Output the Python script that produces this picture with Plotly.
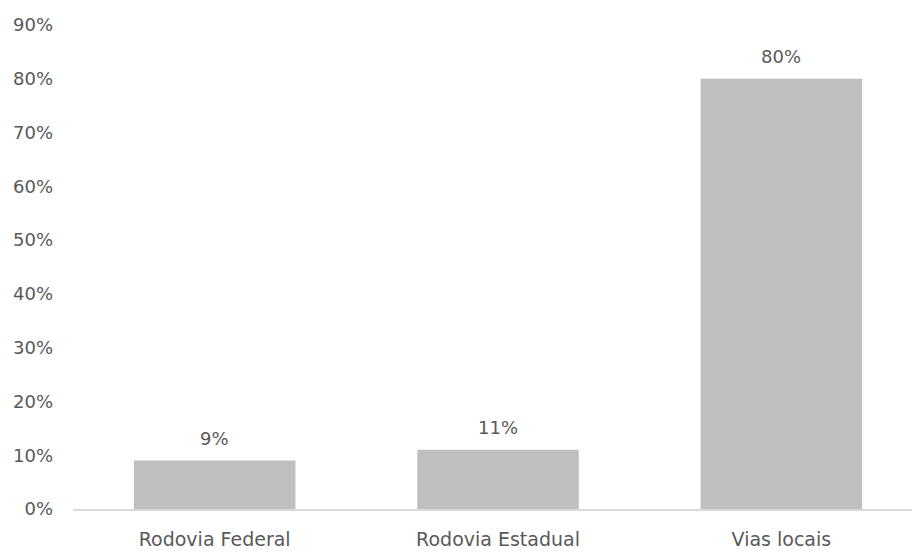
import plotly.graph_objects as go

# Share of occurrences by road type
categories = ["Rodovia Federal", "Rodovia Estadual", "Vias locais"]
shares = [0.09, 0.11, 0.80]
y_ticks = [0, 0.1, 0.2, 0.3, 0.4, 0.5, 0.6, 0.7, 0.8, 0.9]
y_tick_labels = ["0%", "10%", "20%", "30%", "40%", "50%", "60%", "70%", "80%", "90%"]

text_color = "#595959"
font_family = "DejaVu Sans, sans-serif"

fig = go.Figure(
    go.Bar(
        x=categories,
        y=shares,
        marker=dict(color="#bfbfbf", line=dict(width=0)),
        width=0.57,
        hoverinfo="skip",
    )
)

# Value labels above each bar
for cat, val in zip(categories, shares):
    fig.add_annotation(
        x=cat,
        y=val,
        text=f"{val * 100:.0f}%",
        showarrow=False,
        yanchor="bottom",
        yshift=10,
        font=dict(family=font_family, size=18, color=text_color),
    )

fig.update_layout(
    width=912,
    height=552,
    margin=dict(l=73, r=0, t=25, b=43),
    paper_bgcolor="white",
    plot_bgcolor="white",
    showlegend=False,
    font=dict(family=font_family, color=text_color),
    xaxis=dict(
        range=[-0.5, 2.461],
        showline=True,
        linecolor="#d9d9d9",
        linewidth=1.5,
        showgrid=False,
        ticks="",
        tickfont=dict(size=19, color=text_color),
        ticklabelstandoff=12,
    ),
    yaxis=dict(
        range=[0, 0.9],
        tickvals=y_ticks,
        ticktext=y_tick_labels,
        showgrid=False,
        showline=False,
        zeroline=False,
        ticks="",
        tickfont=dict(size=18, color=text_color),
        ticklabelstandoff=19,
    ),
)

fig.write_html("out.html")
